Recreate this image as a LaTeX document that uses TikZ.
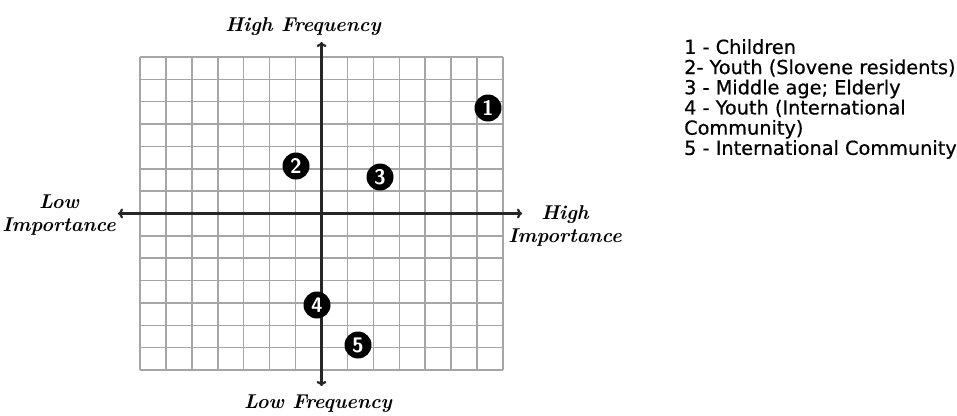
\documentclass[tikz,border=0pt]{standalone}
\usepackage{fontspec}
\newfontfamily\legendfont[FakeBold=0.6]{DejaVu Sans}
\usetikzlibrary{arrows.meta}
\tikzset{
  gridline/.style={draw=black!35, line width=1.5pt},
  axisline/.style={draw=black!85, line width=2.2pt, -{To[length=5pt,width=10pt]}},
  axislabel/.style={font=\fontsize{20}{23}\selectfont\bfseries\itshape, align=center, inner sep=0pt},
  dot/.style={circle, fill=black, minimum size=27pt, inner sep=0pt, text=white, font=\sffamily\bfseries\fontsize{21}{21}\selectfont},
  legend/.style={font=\legendfont\fontsize{19.3}{20.2}\selectfont, align=left, anchor=north west, inner sep=0pt}
}
\begin{document}
\begin{tikzpicture}[x=1pt,y=-1pt]
\useasboundingbox (0,0) rectangle (957,415);
% grid
\foreach \i in {0,...,14} {
  \draw[gridline] ({140+\i*363/14},57) -- ({140+\i*363/14},370);
  \draw[gridline] (140,{57+\i*313/14}) -- (503,{57+\i*313/14});
}
% axes
\coordinate (xl) at (118,213.5);
\coordinate (xr) at (522,213.5);
\coordinate (yt) at (321.5,42);
\coordinate (yb) at (321.5,386);
\coordinate (c) at (321.5,213.5);
\draw[axisline] (c) -- (xl);
\draw[axisline] (c) -- (xr);
\draw[axisline] (c) -- (yt);
\draw[axisline] (c) -- (yb);
% axis labels
\node[axislabel] (hf) at (303,27) {High Frequency};
\node[axislabel] (lf) at (318,404) {Low Frequency};
\node[axislabel] (li) at (59,215) {Low\\Importance};
\node[axislabel] (hi) at (565,226) {High\\Importance};
% points
\node[dot] (n1) at (488,108) {1};
\node[dot] (n2) at (296,166) {2};
\node[dot] (n3) at (380,177) {3};
\node[dot] (n4) at (317,305) {4};
\node[dot] (n5) at (358,345) {5};
% legend
\node[legend] (leg) at (684,39) {1 - Children\\2- Youth (Slovene residents)\\3 - Middle age; Elderly\\4 - Youth (International\\Community)\\5 - International Community};
\end{tikzpicture}
\end{document}
